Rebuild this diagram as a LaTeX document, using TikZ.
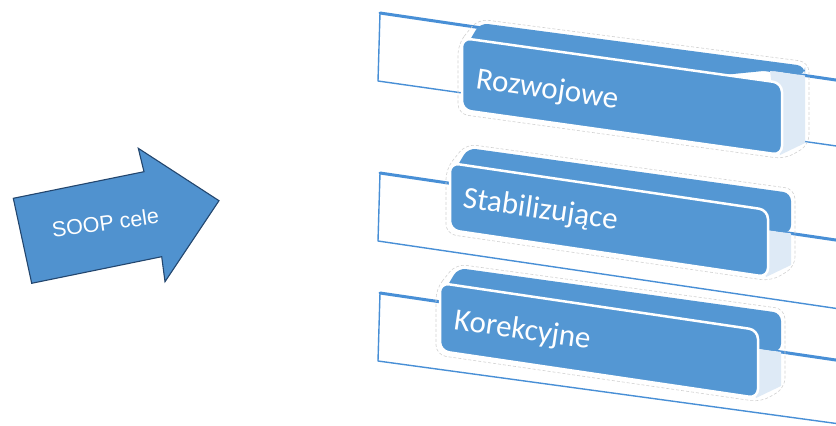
\documentclass[tikz,border=0pt]{standalone}
\usepackage{fontspec}
\newfontfamily\calibfont{Carlito}
\newfontfamily\arialfont{Liberation Sans}
\definecolor{cardblue}{RGB}{84,151,211}
\definecolor{arrowblue}{RGB}{80,146,207}
\definecolor{arrowedge}{RGB}{35,70,110}
\definecolor{stripblue}{RGB}{72,143,214}
\definecolor{palecol}{RGB}{222,234,246}
\tikzset{
  stripfill/.style={fill=white},
  stripthin/.style={draw=stripblue, line width=1.4pt, line join=round},
  stripthick/.style={draw=stripblue, line width=3pt, line cap=round},
  glowline/.style={draw=gray!35, densely dashed, line width=0.6pt, rounded corners=10pt},
  frontcard/.style={fill=cardblue, draw=white, line width=2.5pt, rounded corners=9pt},
  cardtext/.style={text=white, font=\calibfont\fontsize{31}{34}\selectfont, inner sep=0pt, anchor=base west, rotate=-8.3},
  arrowshape/.style={fill=arrowblue, draw=arrowedge, line width=1.1pt, line join=miter},
  sooptext/.style={text=white, font=\arialfont\fontsize{21.5}{24}\selectfont, inner sep=0pt, anchor=base west, rotate=8}
}
% #1 left x, #2 top-left y, #3 right x, #4 top-right y, #5 height, #6 strip top-left y, #7 strip bottom-right y
\newcommand{\soopTier}[7]{%
  \pgfmathsetmacro\sTR{#6+0.147*460}%
  \pgfmathsetmacro\sBL{#6+68}%
  \pgfmathsetmacro\yF{#6+0.147*(#3-12-380)}%
  \pgfmathsetmacro\yB{#6+0.147*(#3+23-380)}%
  \pgfmathsetmacro\fBy{#4+#5}%
  \pgfmathsetmacro\fBLy{#2+#5}%
  \path[stripfill] (380,#6) -- (840,\sTR) -- (840,#7) -- (378,\sBL) -- cycle;
  \draw[stripthin] (380,#6) -- (378,\sBL) -- (840,#7);
  \draw[stripthick] (380,#6) -- (840,\sTR);
  \fill[palecol] (#3-12,\yF) -- (#3+23,\yB) -- (#3+23,\fBy-12) -- (#3-2,\fBy) -- cycle;
  \fill[cardblue, rounded corners=8pt] (#1+2,#2+12) -- (#1+18,#2-15) -- (#3+23,#4-17) -- (#3+23,\yB) -- (#3-12,\yF) -- (#1+10,\fBLy-10) -- cycle;
  \draw[glowline] (#1-4,#2+6) -- (#1+16,#2-19) -- (#3+27,#4-21) -- (#3+27,\fBy-10) -- (#3+3,\fBy+4) -- (#1-4,\fBLy+4) -- cycle;
  \path[frontcard] (#1,#2) -- (#3,#4) -- (#3,\fBy) -- (#1,\fBLy) -- cycle;
}
\begin{document}
\begin{tikzpicture}[x=1pt,y=-1pt]
\useasboundingbox (0,0) rectangle (836,426);
\clip (0,0) rectangle (836,426);
\fill[white] (0,0) rectangle (836,426);
% arrow
\path[arrowshape] (13.3,198.3) -- (144,171.7) -- (138.3,148.3) -- (219,200.7) -- (165,281.7) -- (161.7,256.7) -- (31.7,283.3) -- cycle;
\node[sooptext] (soop) at (53,238) {SOOP cele};
% tiers
\soopTier{462}{38}{782}{83}{72}{13}{146.5}
\node[cardtext] (t1) at (475,88) {Rozwojowe};
\soopTier{450}{163}{768}{210}{67}{173}{309}
\node[cardtext] (t2) at (462,207) {Stabilizujące};
\soopTier{440}{283}{758}{330}{68}{293}{424}
\node[cardtext] (t3) at (453,329) {Korekcyjne};
\end{tikzpicture}
\end{document}
